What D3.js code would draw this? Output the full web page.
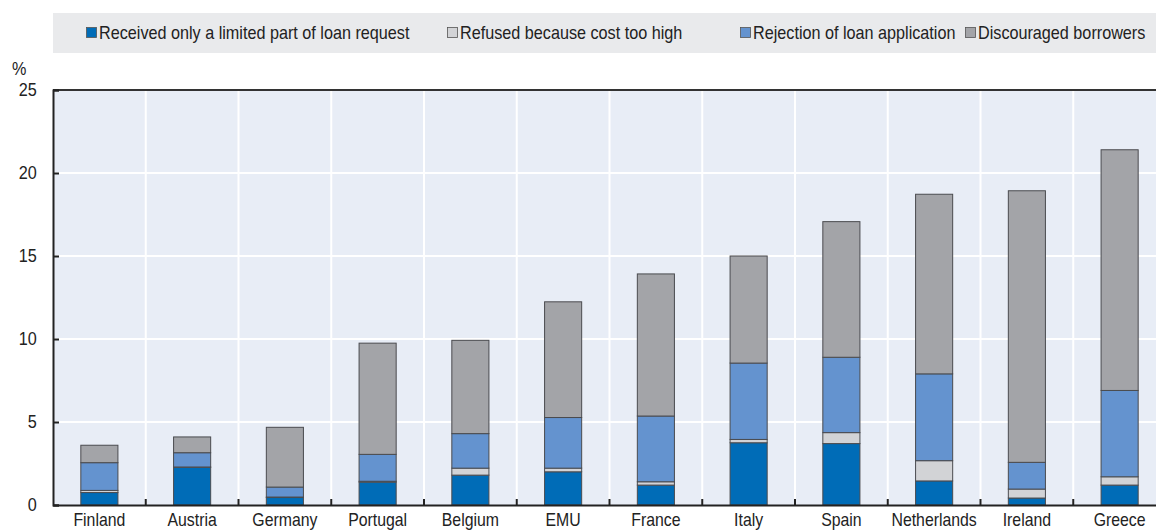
<!DOCTYPE html>
<html>
<head>
<meta charset="utf-8">
<script src="https://cdn.jsdelivr.net/npm/d3@7"></script>
<style>
  body { margin: 0; background: #fff; }
  text { font-family: "Liberation Sans", Arial, sans-serif; fill: #222; }
</style>
</head>
<body>
<script>
// Data
const countries = ["Finland", "Austria", "Germany", "Portugal", "Belgium", "EMU",
  "France", "Italy", "Spain", "Netherlands", "Ireland", "Greece"];
const received = [0.75, 2.27, 0.45, 1.38, 1.80, 2.00, 1.20, 3.75, 3.70, 1.45, 0.42, 1.20];
const refused = [0.13, 0.02, 0.03, 0.05, 0.42, 0.22, 0.20, 0.20, 0.66, 1.22, 0.54, 0.50];
const rejection = [1.67, 0.86, 0.60, 1.62, 2.08, 3.05, 3.96, 4.60, 4.54, 5.23, 1.61, 5.20];
const discouraged = [1.05, 0.95, 3.60, 6.70, 5.62, 6.97, 8.56, 6.45, 8.17, 10.82, 16.36, 14.50];
const seriesNames = ["Received only a limited part of loan request", "Refused because cost too high",
  "Rejection of loan application", "Discouraged borrowers"];
const yTicks = [0, 5, 10, 15, 20, 25];

const colors = ["#006cb7", "#d2d3d6", "#6493cf", "#a3a4a8"];

const width = 1156;
const height = 530;
const marginTop = 90;
const marginBottom = 25;
const marginLeft = 53;
const plotRight = 1166;
const narrow = "scale(0.9,1)"; // condensed look of the original font

const keys = ["received", "refused", "rejection", "discouraged"];
const rows = countries.map((c, i) => ({
  country: c,
  received: received[i],
  refused: refused[i],
  rejection: rejection[i],
  discouraged: discouraged[i]
}));
const stacked = d3.stack().keys(keys)(rows);

const x = d3.scaleBand()
  .domain(countries)
  .range([marginLeft, plotRight])
  .padding(0);

const y = d3.scaleLinear()
  .domain([0, 25])
  .range([height - marginBottom, marginTop]);

const svg = d3.select("body")
  .append("svg")
  .attr("width", width)
  .attr("height", height)
  .attr("viewBox", [0, 0, width, height]);

// Legend
svg.append("rect")
  .attr("x", marginLeft)
  .attr("y", 13)
  .attr("width", width - marginLeft)
  .attr("height", 40)
  .attr("fill", "#e9eaec");

const legendX = [86, 447, 740, 965];
const legend = svg.append("g")
  .selectAll("g")
  .data(seriesNames)
  .join("g")
  .attr("transform", (d, i) => `translate(${legendX[i]},33)`);

legend.append("rect")
  .attr("x", 0.5)
  .attr("y", -5.5)
  .attr("width", 10)
  .attr("height", 10)
  .attr("fill", (d, i) => colors[i])
  .attr("stroke", "#555")
  .attr("stroke-width", 0.8);

legend.append("text")
  .attr("transform", `translate(13,6) ${narrow}`)
  .style("font-size", "18px")
  .text(d => d);

// Plot background
svg.append("rect")
  .attr("x", marginLeft)
  .attr("y", marginTop)
  .attr("width", plotRight - marginLeft)
  .attr("height", y(0) - marginTop)
  .attr("fill", "#e8edf6");

// Grid lines
svg.append("g")
  .selectAll("line")
  .data(yTicks.slice(1, -1))
  .join("line")
  .attr("x1", marginLeft)
  .attr("x2", plotRight)
  .attr("y1", d => y(d))
  .attr("y2", d => y(d))
  .attr("stroke", "#fff")
  .attr("stroke-width", 2);

svg.append("g")
  .selectAll("line")
  .data(countries.slice(1))
  .join("line")
  .attr("x1", d => x(d))
  .attr("x2", d => x(d))
  .attr("y1", marginTop)
  .attr("y2", y(0))
  .attr("stroke", "#fff")
  .attr("stroke-width", 2);

// Bars
const barW = x.bandwidth() * 0.4;
svg.append("g")
  .selectAll("g")
  .data(stacked)
  .join("g")
  .attr("fill", (d, i) => colors[i])
  .selectAll("rect")
  .data(d => d)
  .join("rect")
  .attr("x", d => x(d.data.country) + (x.bandwidth() - barW) / 2)
  .attr("y", d => y(d[1]))
  .attr("width", barW)
  .attr("height", d => y(d[0]) - y(d[1]))
  .attr("stroke", "#4a4b4f")
  .attr("stroke-width", 1);

// Top border
svg.append("line")
  .attr("x1", marginLeft)
  .attr("x2", plotRight)
  .attr("y1", marginTop)
  .attr("y2", marginTop)
  .attr("stroke", "#333")
  .attr("stroke-width", 2);

// Y axis
const yAxis = svg.append("g")
  .attr("transform", `translate(${marginLeft},0)`)
  .call(d3.axisLeft(y).tickValues(yTicks).tickSize(-6).tickPadding(16));
yAxis.select(".domain").attr("stroke", "#222").attr("stroke-width", 2);
yAxis.selectAll(".tick line").attr("stroke", "#222").attr("stroke-width", 2);
yAxis.selectAll(".tick text")
  .style("font-size", "18px")
  .attr("fill", "#222")
  .attr("x", -18)
  .attr("transform", narrow);

svg.append("text")
  .attr("transform", `translate(12,75) ${narrow}`)
  .style("font-size", "18px")
  .text("%");

// X axis
const xAxis = svg.append("g")
  .attr("transform", `translate(0,${y(0)})`)
  .call(d3.axisBottom(x).tickSize(0).tickPadding(8).tickSizeOuter(0));
xAxis.select(".domain").attr("stroke", "#222").attr("stroke-width", 2);
xAxis.selectAll(".tick text")
  .style("font-size", "18px")
  .attr("fill", "#222")
  .attr("transform", "scale(0.88,1)");

xAxis.append("g")
  .selectAll("line")
  .data(countries.slice(1))
  .join("line")
  .attr("x1", d => x(d))
  .attr("x2", d => x(d))
  .attr("y1", 0)
  .attr("y2", -6)
  .attr("stroke", "#222")
  .attr("stroke-width", 2);
</script>
</body>
</html>
